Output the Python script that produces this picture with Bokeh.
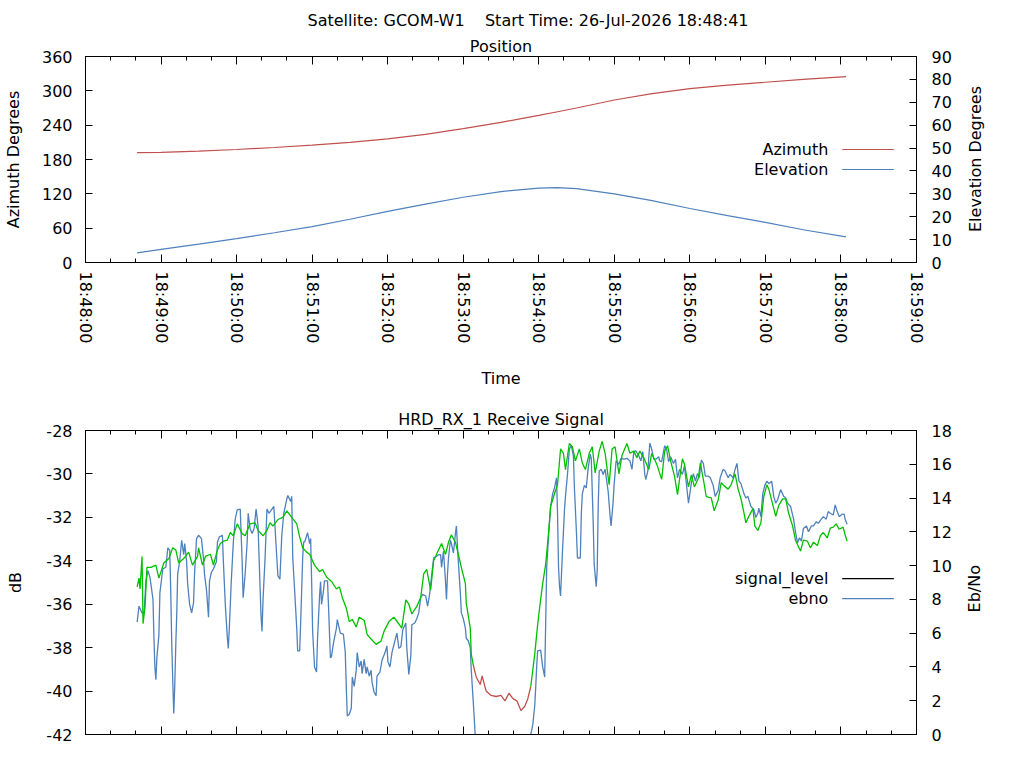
import math
from bokeh.plotting import figure
from bokeh.layouts import column
from bokeh.models import Range1d, LinearAxis, FixedTicker, Title
from bokeh.core.properties import value
from bokeh.embed import file_html
from bokeh.resources import INLINE

FONT = "DejaVu Sans"
FS = "16px"
RED = "#c0504d"
BLUE = "#4f81bd"
GREEN = "#00c000"
NBSP = "\u00a0"

satellite = "GCOM-W1"
start_time = "26-Jul-2026 18:48:41"
receiver = "HRD_RX_1"

# time axis, seconds after 18:48:00
tick_sec = list(range(0, 661, 60))
tick_labels = ["18:%02d:00" % (48 + i) for i in range(len(tick_sec))]
minor_sec = [s for s in range(0, 661, 20) if s % 60]

# pass geometry
pos_sec = [41, 60, 90, 120, 150, 180, 210, 240, 270, 300, 330, 360, 375, 390, 420, 450, 480, 510, 540, 570, 604]
azimuth = [192, 192.5, 194.5, 197.5, 201, 205, 210, 216, 224, 234, 245, 257, 263.5, 270, 284, 295, 304, 310, 315, 320, 325]
elevation = [4.2, 5.7, 8.0, 10.4, 13.0, 15.7, 18.9, 22.3, 25.5, 28.5, 31.0, 32.5, 32.7, 32.3, 30.0, 27.0, 23.6, 20.5, 17.5, 14.3, 11.2]

# receiver signal level (dB)
sig_sec = [41.0, 42.5, 43.3, 44.9, 45.7, 47.3, 48.8, 52.0, 55.9, 58.3, 62.2, 66.2, 69.3, 71.7, 74.0, 78.0,
           81.9, 85.0, 89.0, 89.8, 92.9, 95.3, 99.2, 101.6, 104.8, 107.1, 109.5, 112.6, 115.0, 117.4, 120.5,
           124.4, 126.8, 130.7, 134.7, 137.0, 141.0, 144.1, 146.5, 148.9, 152.8, 156.7, 159.9, 163.8, 167.8,
           170.1, 172.5, 175.6, 178.0, 181.9, 185.9, 188.3, 191.4, 195.4, 199.3, 201.7, 204.0, 207.2, 209.5,
           211.9, 215.0, 217.4, 221.4, 223.7, 226.8, 230.8, 234.7, 237.1, 241.0, 244.9, 248.8, 251.2, 254.4,
           256.8, 259.2, 263.1, 266.2, 268.6, 271.0, 274.1, 276.5, 278.8, 282.8, 285.9, 288.3, 290.6, 293.8,
           296.1, 298.5, 301.7, 302.4, 305.6, 306.4, 308.0, 310.3, 313.5, 315.0, 318.2, 322.1, 326.1, 330.0,
           333.2, 336.3, 339.5, 342.6, 345.8, 348.9, 351.3, 353.6, 356.8, 359.1, 360.7, 363.1, 365.5, 367.8,
           369.4, 372.5, 374.9, 377.3, 379.6, 381.2, 384.3, 386.7, 389.1, 392.2, 394.6, 397.0, 400.1, 402.5,
           404.8, 408.0, 410.3, 412.7, 415.9, 418.2, 420.6, 423.7, 426.1, 430.0, 432.4, 435.5, 437.9, 440.3,
           443.4, 447.4, 449.7, 453.7, 457.6, 460.0, 462.3, 464.7, 467.8, 470.2, 471.8, 474.1, 475.7, 478.9,
           481.2, 483.6, 486.7, 488.3, 491.5, 493.0, 497.0, 499.3, 502.5, 504.9, 507.2, 510.4, 512.7, 515.9,
           518.3, 520.6, 523.0, 524.5, 526.9, 530.1, 531.6, 534.0, 536.4, 538.7, 541.1, 542.7, 545.8, 548.2,
           550.6, 553.7, 556.1, 558.4, 561.6, 563.9, 566.3, 567.9, 570.2, 573.4, 575.7, 578.1, 581.3, 583.6,
           586.0, 589.1, 591.5, 593.9, 596.2, 598.6, 601.7, 603.3, 604.9]
sig_db = [-35.2, -34.8, -35.3, -33.8, -36.9, -36.1, -34.3, -34.3, -34.2, -34.8, -34.1, -33.9, -33.4, -33.5,
          -34.1, -33.9, -33.6, -34.2, -33.8, -33.4, -34.2, -33.8, -33.7, -34.2, -33.5, -33.2, -33.1, -33.05,
          -32.7, -32.85, -32.3, -32.75, -32.85, -32.3, -32.25, -32.6, -32.85, -32.6, -32.25, -32.4, -32.1,
          -32.0, -31.7, -32.0, -32.3, -32.9, -33.4, -33.6, -33.7, -34.2, -34.5, -34.4, -34.75, -34.95, -35.3,
          -35.2, -35.7, -36.2, -36.8, -36.7, -37.05, -36.6, -36.75, -37.4, -37.6, -37.85, -37.7, -37.25,
          -36.8, -36.6, -36.9, -37.1, -35.8, -36.0, -36.45, -36.1, -35.7, -34.6, -34.4, -35.35, -34.0, -33.7,
          -33.2, -33.7, -33.15, -32.8, -33.15, -33.7, -34.3, -35.05, -35.95, -37.1, -38.3, -38.8, -39.35,
          -39.7, -39.3, -40.0, -40.2, -40.25, -40.2, -40.45, -40.1, -40.35, -40.45, -40.9, -40.7, -40.35,
          -39.8, -38.3, -36.95, -36.15, -35.05, -34.15, -32.7, -31.5, -30.9, -30.5, -28.85, -29.05, -29.8,
          -28.6, -28.75, -29.4, -28.85, -29.5, -29.8, -29.05, -28.75, -29.95, -28.95, -28.5, -29.05, -30.5,
          -28.85, -28.75, -30.0, -29.15, -28.6, -29.05, -28.95, -29.25, -28.95, -29.25, -29.8, -29.05,
          -29.55, -30.25, -28.95, -28.7, -29.4, -30.1, -30.95, -30.25, -29.3, -29.55, -30.6, -30.05, -30.6,
          -30.2, -29.5, -30.5, -31.05, -31.1, -31.7, -31.2, -30.4, -30.55, -30.7, -30.5, -30.0, -30.7,
          -31.15, -31.8, -32.25, -31.95, -31.6, -32.4, -32.6, -32.25, -31.05, -30.5, -30.7, -31.4, -31.95,
          -31.45, -31.15, -31.15, -31.8, -32.4, -33.05, -33.35, -33.55, -33.05, -33.1, -33.4, -33.15, -33.3,
          -32.85, -32.7, -32.95, -32.5, -32.45, -32.3, -32.55, -32.45, -32.8, -33.1]
# interval where the receiver is out of lock (drawn red)
unlock_sec = (308.0, 353.6)

# Eb/No
ebno_sec = [41.0, 42.5, 44.9, 46.5, 48.0, 49.6, 51.2, 53.6, 54.3, 55.1, 55.9, 56.7, 58.3, 59.1, 61.4, 63.8,
            65.4, 66.9, 67.7, 68.5, 69.3, 70.1, 70.9, 71.7, 72.5, 73.2, 74.8, 76.4, 78.0, 78.8, 80.3, 81.1,
            82.7, 84.3, 85.8, 86.6, 88.2, 89.8, 92.1, 93.7, 94.5, 96.1, 97.7, 98.5, 100.0, 101.6, 104.0, 104.8,
            106.3, 108.7, 109.5, 111.1, 112.6, 113.4, 114.2, 115.8, 117.4, 118.9, 120.5, 122.9, 124.4, 125.2,
            126.8, 128.4, 129.2, 130.7, 132.3, 133.9, 135.5, 137.0, 139.4, 140.2, 141.0, 142.6, 144.1, 145.7,
            148.1, 149.6, 151.2, 152.8, 154.4, 155.9, 157.5, 159.9, 160.7, 163.0, 163.8, 164.6, 166.2, 167.8,
            168.5, 170.1, 170.9, 172.5, 173.3, 174.1, 176.4, 178.0, 178.8, 179.6, 180.4, 181.9, 183.5, 184.3,
            185.9, 186.7, 187.5, 189.0, 189.8, 192.2, 193.0, 194.5, 195.3, 196.9, 199.3, 200.0, 202.4, 204.8,
            206.3, 207.1, 207.9, 209.5, 211.1, 211.9, 213.4, 215.0, 215.8, 217.4, 218.9, 219.7, 221.3, 222.9,
            223.7, 225.3, 226.8, 227.6, 229.2, 230.8, 231.5, 233.9, 235.5, 237.9, 239.4, 240.2, 241.8, 243.4,
            244.9, 247.3, 248.9, 250.5, 252.0, 254.4, 255.2, 256.8, 258.4, 259.2, 261.5, 263.1, 264.7, 266.2,
            267.8, 270.2, 271.7, 273.3, 274.9, 276.5, 278.8, 280.4, 282.0, 282.8, 284.3, 285.9, 286.7, 287.5,
            288.3, 289.8, 290.6, 292.2, 293.8, 294.6, 295.4, 296.1, 297.7, 298.5, 300.1, 301.7, 302.4, 304.0,
            305.6, 306.4, 308.0, 309.5, 311.1, 315.8, 331.6, 347.3, 352.1, 353.6, 355.2, 356.8, 357.6, 358.4,
            359.1, 361.5, 363.1, 364.7, 365.5, 366.3, 367.8, 369.4, 371.0, 372.5, 374.1, 374.9, 375.7, 376.5,
            377.3, 378.8, 380.4, 381.2, 382.8, 384.3, 385.9, 387.5, 388.3, 389.9, 390.7, 393.0, 393.8, 394.6,
            396.2, 397.7, 399.3, 400.9, 401.7, 403.3, 404.0, 405.6, 406.4, 407.2, 408.0, 409.6, 411.1, 412.7,
            415.1, 416.7, 417.4, 419.0, 419.8, 421.4, 423.7, 425.3, 427.7, 430.0, 432.4, 434.0, 435.5, 437.1,
            439.5, 441.1, 442.6, 444.2, 445.0, 446.6, 448.2, 449.7, 451.3, 452.9, 455.3, 456.0, 457.6, 460.0,
            461.5, 463.1, 464.7, 467.0, 468.6, 470.2, 471.8, 474.1, 475.7, 477.3, 478.9, 479.6, 481.2, 482.8,
            484.4, 486.0, 487.5, 489.1, 490.7, 492.3, 494.6, 496.2, 498.5, 500.1, 502.5, 504.1, 506.4, 508.0,
            510.4, 511.9, 514.3, 515.9, 517.4, 519.0, 520.6, 523.0, 524.5, 526.1, 528.5, 530.9, 532.4, 534.0,
            534.8, 536.4, 537.9, 539.5, 541.1, 542.7, 545.0, 546.6, 548.2, 549.7, 552.1, 554.5, 556.1, 557.6,
            560.0, 562.4, 563.9, 565.5, 567.1, 568.6, 570.2, 572.6, 574.2, 576.5, 578.1, 580.5, 582.0, 584.4,
            586.0, 588.3, 589.9, 591.5, 593.9, 595.4, 597.0, 598.6, 601.0, 602.5, 603.3, 604.9]
ebno = [6.65, 7.6, 7.2, 7.2, 9.1, 9.7, 9.3, 8.0, 5.9, 4.0, 3.25, 4.55, 5.9, 8.4, 9.8, 9.9,
        11.05, 10.9, 8.5, 5.4, 3.2, 1.25, 2.9, 5.3, 7.2, 9.5, 10.25, 11.5, 10.65, 11.3, 10.25, 8.95,
        7.7, 7.2, 7.8, 9.5, 11.6, 11.8, 11.6, 10.4, 9.5, 8.55, 6.95, 9.1, 9.6, 9.8, 10.25, 11.4,
        11.7, 11.8, 10.25, 7.6, 5.8, 5.1, 6.25, 9.1, 11.4, 12.75, 13.3, 13.35, 10.25, 8.1,
        9.5, 11.4, 13.1, 12.2, 11.9, 12.2, 13.35, 12.4, 7.05, 6.1, 8.0, 10.4, 13.35, 13.1,
        13.35, 13.5, 11.4, 9.4, 9.2, 11.8, 13.1, 13.95, 14.15, 13.8, 14.1, 10.5, 8.4, 6.25,
        4.95, 4.95, 6.65, 10.5, 11.4, 11.4, 11.95, 11.3, 11.6, 9.1, 6.1, 4.0, 3.7, 5.7,
        8.2, 9.05, 7.7, 8.5, 9.1, 9.1, 7.6, 4.55, 4.6, 5.4, 6.3, 6.8, 6.0, 5.95,
        4.9, 2.85, 1.1, 1.2, 1.55, 3.4, 2.85, 3.8, 4.85, 4.0, 4.35, 3.6, 4.45, 3.6,
        4.0, 3.45, 3.8, 3.1, 2.5, 2.3, 3.45, 3.7, 4.4, 4.85, 5.25, 4.3, 4.0, 4.85,
        5.3, 6.0, 5.1, 5.2, 6.2, 6.6, 5.1, 3.55, 4.7, 6.5, 6.6, 6.85, 7.2, 8.1,
        8.3, 8.2, 7.6, 8.3, 9.4, 10.45, 10.55, 10.65, 10.65, 9.9, 10.85, 9.1, 8.0, 9.5,
        10.45, 11.5, 11.3, 10.75, 11.9, 12.35, 11.2, 10.25, 8.4, 7.2, 6.85, 6.3, 5.7, 5.55,
        5.15, 3.8, 1.9, 0.0, -1.0, -2.0, -2.5, -2.0, -1.0, 0.0, 0.55, 1.7, 2.85, 4.1,
        4.95, 5.0, 4.0, 3.4, 6.65, 9.9, 11.8, 13.5, 14.25, 14.6, 15.2, 13.1, 9.9, 8.75,
        8.2, 10.8, 13.3, 14.1, 15.4, 16.9, 17.1, 16.5, 14.6, 12.0, 10.45, 10.45, 13.1, 14.25,
        14.75, 14.6, 15.8, 16.6, 16.35, 12.35, 10.1, 8.75, 9.7, 13.5, 15.6, 15.7, 15.4, 15.7,
        14.4, 12.9, 12.35, 13.7, 14.75, 16.2, 16.0, 16.35, 16.3, 16.35, 16.2, 15.7, 16.75, 16.8,
        16.5, 16.2, 16.75, 15.4, 15.1, 15.6, 17.25, 16.9, 16.3, 16.3, 16.45, 16.2, 16.15, 17.1,
        16.9, 16.15, 16.45, 16.05, 16.3, 15.2, 15.7, 15.4, 15.9, 14.8, 13.7, 14.05, 14.9, 15.45,
        15.0, 15.45, 15.2, 16.25, 16.05, 15.3, 15.3, 15.2, 14.75, 14.1, 14.45, 15.2, 15.7, 15.6,
        15.2, 15.4, 15.2, 15.7, 16.05, 15.0, 14.85, 14.25, 14.0, 14.1, 13.5, 13.3, 12.85, 13.1,
        13.4, 12.9, 14.25, 14.75, 15.0, 14.85, 15.0, 14.1, 13.7, 13.9, 14.5, 14.1, 14.0, 13.7,
        13.5, 12.75, 12.0, 11.35, 11.65, 11.45, 12.2, 12.35, 12.0, 12.35, 12.35, 12.6, 12.5, 12.75,
        12.9, 12.75, 13.2, 13.1, 13.0, 13.6, 13.2, 12.9, 13.05, 13.05, 12.75, 12.45]


def style_axis(ax, tick_len=7, minor_len=4):
    ax.major_tick_in = tick_len
    ax.major_tick_out = 0
    ax.minor_tick_in = minor_len
    ax.minor_tick_out = 0
    ax.axis_line_color = "black"
    ax.major_tick_line_color = "black"
    ax.minor_tick_line_color = "black"
    ax.major_label_text_font = FONT
    ax.major_label_text_font_size = FS
    ax.major_label_text_color = "black"
    ax.axis_label_text_font = FONT
    ax.axis_label_text_font_size = FS
    ax.axis_label_text_font_style = "normal"
    ax.axis_label_text_color = "black"


def add_title(p, text, standoff, align="center", offset=0):
    p.add_layout(Title(text=text, align=align, offset=offset, standoff=standoff,
                       text_font=FONT, text_font_size=FS, text_font_style="normal",
                       text_color="black"), "above")


def blank_labels(ax):
    ax.major_label_overrides = {t: "" for t in tick_sec}
    ax.major_label_standoff = 0


def right_title(ax, text, pad):
    # right-hand axis title reading bottom to top, like the left one
    ax.axis_label = NBSP * pad + text
    ax.axis_label_orientation = math.pi / 2
    ax.axis_label_align = "start"


def legend_entry(p, x_text, x0, x1, y, label, color, range_name="default"):
    # gnuplot-style key: text right-aligned, sample line on its right
    p.text([x_text], [y], text=[label], text_font=value(FONT), text_font_size=FS,
           text_align="right", text_baseline="middle", text_color="black",
           y_range_name=range_name)
    p.segment(x0=[x0], y0=[y], x1=[x1], y1=[y], line_color=color, line_width=1.2,
              y_range_name=range_name)


def base_figure(height, y0, y1, top, bottom):
    p = figure(width=1000, height=height, x_range=Range1d(0, 660), y_range=Range1d(y0, y1),
               output_backend="svg", toolbar_location=None, tools="", title=None,
               min_border_left=78, min_border_right=84, min_border_top=top, min_border_bottom=bottom)
    p.grid.visible = False
    p.outline_line_color = "black"
    p.outline_line_alpha = 1
    xa = p.xaxis[0]
    xa.ticker = FixedTicker(ticks=tick_sec, minor_ticks=minor_sec)
    style_axis(xa, 8, 4)
    mirror = LinearAxis(ticker=FixedTicker(ticks=tick_sec, minor_ticks=minor_sec))
    style_axis(mirror, 8, 4)
    blank_labels(mirror)
    mirror.axis_line_color = None
    p.add_layout(mirror, "above")
    return p, xa


# ---- Position panel
top, top_x = base_figure(392, 0, 360, 56, 130)
top_x.major_label_overrides = dict(zip(tick_sec, tick_labels))
top_x.major_label_orientation = -math.pi / 2
top_x.major_label_standoff = 9
top_x.axis_label = "Time"
top_x.axis_label_standoff = 23
add_title(top, "Position", 1)
add_title(top, "Satellite: %s%sStart Time: %s" % (satellite, NBSP * 4, start_time), 10, "left", 222)

ya = top.yaxis[0]
ya.ticker = FixedTicker(ticks=list(range(0, 361, 60)), minor_ticks=[])
style_axis(ya)
ya.major_label_standoff = 13
ya.axis_label = "Azimuth Degrees"
ya.axis_label_standoff = 16

top.extra_y_ranges = {"elev": Range1d(0, 90)}
ra = LinearAxis(y_range_name="elev", ticker=FixedTicker(ticks=list(range(0, 91, 10)), minor_ticks=[]))
style_axis(ra)
ra.major_label_standoff = 15
ra.axis_label_standoff = 21
right_title(ra, "Elevation Degrees", 6)
top.add_layout(ra, "right")

top.line(pos_sec, azimuth, line_color=RED, line_width=1.2)
top.line(pos_sec, elevation, line_color=BLUE, line_width=1.2, y_range_name="elev")

leg_text_x, leg_x0, leg_x1 = 590, 601, 642
legend_entry(top, leg_text_x, leg_x0, leg_x1, 197.5, "Azimuth", RED)
legend_entry(top, leg_text_x, leg_x0, leg_x1, 162.5 / 4, "Elevation", BLUE, "elev")

# ---- Receive signal panel
bot, bot_x = base_figure(352, -42, -28, 38, 10)
blank_labels(bot_x)
add_title(bot, "%s Receive Signal" % receiver, 4)

yb = bot.yaxis[0]
db_ticks = list(range(-42, -27, 2))
yb.ticker = FixedTicker(ticks=db_ticks, minor_ticks=[])
yb.major_label_overrides = {t: str(t) for t in db_ticks}
style_axis(yb)
yb.major_label_standoff = 13
yb.axis_label = "dB"
yb.axis_label_standoff = 18

bot.extra_y_ranges = {"ebno": Range1d(0, 18)}
rb = LinearAxis(y_range_name="ebno", ticker=FixedTicker(ticks=list(range(0, 19, 2)), minor_ticks=[]))
style_axis(rb)
rb.major_label_standoff = 15
rb.axis_label_standoff = 20
right_title(rb, "Eb/No", 24)
bot.add_layout(rb, "right")

u0, u1 = unlock_sec
pre = [(t, v) for t, v in zip(sig_sec, sig_db) if t <= u0]
mid = [(t, v) for t, v in zip(sig_sec, sig_db) if u0 <= t <= u1]
post = [(t, v) for t, v in zip(sig_sec, sig_db) if t >= u1]

bot.line(ebno_sec, ebno, line_color=BLUE, line_width=1.3, y_range_name="ebno")
for seg, col in ((pre, GREEN), (mid, RED), (post, GREEN)):
    bot.line([s[0] for s in seg], [s[1] for s in seg], line_color=col, line_width=1.3)

legend_entry(bot, leg_text_x, leg_x0, leg_x1, -34.82, "signal_level", "black")
legend_entry(bot, leg_text_x, leg_x0, leg_x1, -35.74, "ebno", BLUE)

p = column(top, bot)
open("out.html", "w").write(file_html(p, INLINE))
